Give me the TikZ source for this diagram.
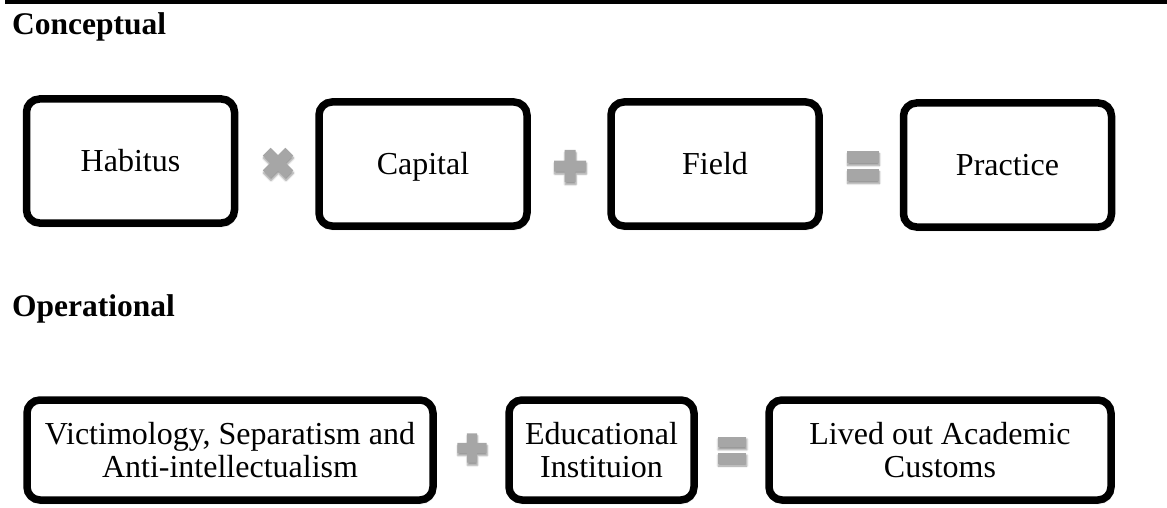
\documentclass[tikz,border=0pt]{standalone}
\usepackage{fontspec}
\setmainfont{Liberation Serif}
\usetikzlibrary{shadows.blur}
\begin{document}
\begin{tikzpicture}[x=1pt,y=-1pt,
  box/.style={draw=black, line width=7.5pt, rounded corners=13pt, fill=white,
    align=center, inner sep=0pt,
    font=\fontsize{32}{33}\selectfont,
    blur shadow={shadow xshift=1pt, shadow yshift=-3pt, shadow blur steps=6, shadow opacity=35}},
  topbox/.style={box, minimum width=208pt, minimum height=124pt, text height=21pt, text depth=0pt},
  lowbox/.style={box, minimum height=100pt},
  heading/.style={anchor=base west, inner sep=0pt, font=\fontsize{31.5}{33}\selectfont\bfseries},
  symfill/.style={fill=black!35, draw=none,
    blur shadow={shadow xshift=0.5pt, shadow yshift=-2.5pt, shadow blur steps=5, shadow opacity=40}},
  plussym/.pic={\fill[symfill] (-16,-5.5)--(-5.5,-5.5)--(-5.5,-16)--(5.5,-16)--(5.5,-5.5)--(16,-5.5)
      --(16,5.5)--(5.5,5.5)--(5.5,16)--(-5.5,16)--(-5.5,5.5)--(-16,5.5)--cycle;},
  eqsym/.pic={\fill[symfill] (-16,-15) rectangle (16,-3);
      \fill[symfill] (-16,3) rectangle (16,15);}
]
\useasboundingbox (0,0) rectangle (1167,508);

% rule across the top
\fill[black] (5,0) rectangle (1167,4.5);

% section headings
\node[heading] (hcon) at (12,35) {Conceptual};
\node[heading] (hop) at (12,316) {Operational};

% conceptual row
\node[topbox] (habitus)  at (130.5,161) {Habitus};
\node[topbox] (capital)  at (423,164) {Capital};
\node[topbox] (field)    at (715,164) {Field};
\node[topbox] (practice) at (1007.5,165) {Practice};

\pic[rotate=45, scale=1.0] at (278,163) {plussym};
\pic at (570,166) {plussym};
\pic at (863,166) {eqsym};

% operational row
\node[lowbox, minimum width=406pt] (victim) at (230,450)
  {Victimology, Separatism and\\Anti-intellectualism};
\node[lowbox, minimum width=185pt] (edu) at (601.5,450)
  {Educational\\Instituion};
\node[lowbox, minimum width=342pt] (lived) at (940,450)
  {Lived out Academic\\Customs};

\pic[scale=0.92] at (472,448) {plussym};
\pic[scale=0.9] at (732,450) {eqsym};
\end{tikzpicture}
\end{document}
